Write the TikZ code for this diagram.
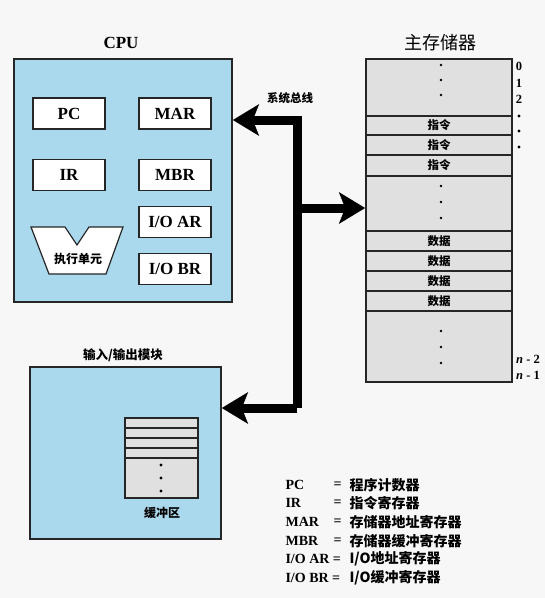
\documentclass[tikz,border=0pt]{standalone}
\usepackage{fontspec}
\setmainfont{Liberation Serif}
\newfontfamily\cjk{Noto Sans CJK SC}
\usetikzlibrary{arrows.meta}
\definecolor{cpublue}{RGB}{170,216,236}
\definecolor{memgray}{RGB}{224,224,224}
\definecolor{bgc}{RGB}{247,247,247}
\tikzset{
  regbox/.style={draw=black!85, fill=white, line width=1.2pt, minimum width=72pt, minimum height=31pt, inner sep=0pt, font=\fontsize{17}{17}\selectfont\bfseries},
  bigbox/.style={draw=black!85, fill=cpublue, line width=1.6pt, inner sep=0pt},
  memrow/.style={font=\cjk\bfseries\fontsize{11.5}{12}\selectfont},
  bus/.style={line width=9pt, line join=miter, draw=black},
  bigtip/.style={-{Stealth[length=26pt,width=31pt,inset=6pt]}},
  dot/.style={circle, fill=black, inner sep=0pt, minimum size=3.4pt},
  lgabbr/.style={anchor=west, font=\fontsize{14}{14}\selectfont\bfseries},
  lgtext/.style={anchor=west, font=\cjk\bfseries\fontsize{14}{14}\selectfont},
  sidelab/.style={font=\fontsize{12.5}{12.5}\selectfont\bfseries}
}
\begin{document}
\begin{tikzpicture}[x=1pt,y=-1pt]
\fill[bgc] (0,0) rectangle (545,598);
\useasboundingbox (0,0) rectangle (545,598);

% CPU
\node[bigbox, minimum width=218pt, minimum height=243pt] (cpu) at (123,180.5) {};
\node[font=\fontsize{17}{17}\selectfont\bfseries] (cputitle) at (121,43) {CPU};
\node[regbox] (pc) at (69,113.5) {PC};
\node[regbox] (mar) at (175,113.5) {MAR};
\node[regbox] (ir) at (69,175) {IR};
\node[regbox] (mbr) at (175,175) {MBR};
\node[regbox] (ioar) at (175,222) {I/O AR};
\node[regbox] (iobr) at (175,269) {I/O BR};
\draw[draw=black!85, fill=white, line width=1.2pt, line join=miter]
  (31,227) -- (65,227) -- (77,245) -- (89,227) -- (123,227) -- (106,274) -- (49,274) -- cycle;
\node[font=\cjk\bfseries\fontsize{12}{12}\selectfont] (exu) at (78,259) {执行单元};

% Memory
\node[draw=black!85, fill=memgray, line width=1.6pt, minimum width=146pt, minimum height=323pt, inner sep=0pt] (mem) at (439,220.5) {};
\node[font=\cjk\fontsize{18}{18}\selectfont] (memtitle) at (440,43) {主存储器};
\foreach \yy in {116,135,155,176,231,251,271,291,311}
  \draw[line width=2pt, draw=black!85] (366,\yy) -- (512,\yy);
\node[memrow] (i1) at (439,125.5) {指令};
\node[memrow] (i2) at (439,145) {指令};
\node[memrow] (i3) at (439,165.5) {指令};
\node[memrow] (d1) at (439,241) {数据};
\node[memrow] (d2) at (439,261) {数据};
\node[memrow] (d3) at (439,281) {数据};
\node[memrow] (d4) at (439,301) {数据};
\foreach \yy in {65,80,95,186,202,218,331,347,363}
  \node[dot, minimum size=2.8pt] at (441,\yy) {};
\node[sidelab] (a0) at (519,66) {0};
\node[sidelab] (a1) at (519,83) {1};
\node[sidelab] (a2) at (519,99) {2};
\foreach \yy in {116,131,147}
  \node[dot] at (519,\yy) {};
\node[sidelab] (an2) at (528,359) {\textit{n} - 2};
\node[sidelab] (an1) at (528,375) {\textit{n} - 1};

% I/O module
\node[bigbox, minimum width=191pt, minimum height=172pt] (io) at (125.5,453) {};
\node[font=\cjk\bfseries\fontsize{12.5}{12.5}\selectfont] (iotitle) at (123,355) {输入/输出模块};
\node[draw=black!85, fill=memgray, line width=1.2pt, minimum width=73pt, minimum height=80pt, inner sep=0pt] (buf) at (161.5,458) {};
\foreach \yy in {428,438,448,458}
  \draw[line width=1.2pt, draw=black!85] (125,\yy) -- (198,\yy);
\foreach \yy in {465,478,491}
  \node[dot] at (161,\yy) {};
\node[font=\cjk\bfseries\fontsize{12}{12}\selectfont] (buflab) at (162,513) {缓冲区};

% Bus
\coordinate (btop) at (297,120);
\coordinate (bmid) at (293,208);
\coordinate (bbot) at (297,408);
\draw[bus, bigtip] (bbot) -- (btop) -- (cpu.east |- btop);
\draw[bus, bigtip] (bbot) -- (io.east |- bbot);
\draw[bus, bigtip] (bmid) -- (mem.west |- bmid);
\node[font=\cjk\bfseries\fontsize{11.5}{12}\selectfont] (buslab) at (290,98) {系统总线};

% Legend
\foreach \yy/\ab/\txt [count=\i] in {485/PC/程序计数器, 503/IR/指令寄存器, 522/MAR/存储器地址寄存器, 541/MBR/存储器缓冲寄存器}{
  \node[lgabbr] (la\i) at (282,\yy) {\ab};
  \node[lgabbr] (le\i) at (330,\yy) {=};
  \node[lgtext] (lt\i) at (346,\yy) {\txt};
}
\node[lgabbr] (la5) at (282,559) {I/O AR =};
\node[lgtext] (lt5) at (346,559) {I/O地址寄存器};
\node[lgabbr] (la6) at (282,578) {I/O BR =};
\node[lgtext] (lt6) at (346,578) {I/O缓冲寄存器};
\end{tikzpicture}
\end{document}
